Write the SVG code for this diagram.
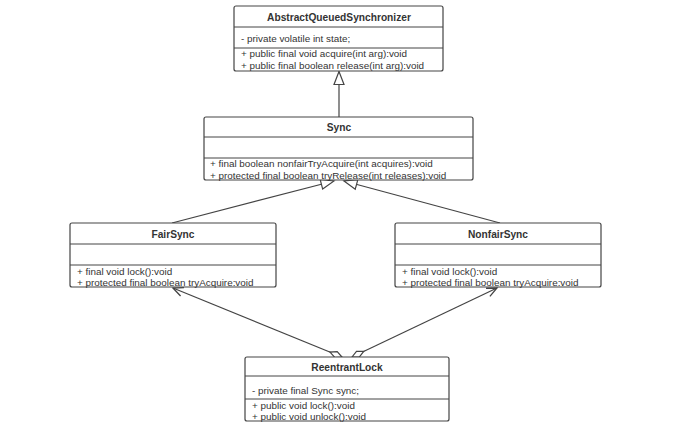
<svg xmlns="http://www.w3.org/2000/svg" width="679" height="427" viewBox="0 0 679 427">
<style>
.box{fill:#fff;stroke:#444;stroke-width:1.2}
.sep{stroke:#444;stroke-width:1}
.t{font-family:"Liberation Sans",Arial,sans-serif;font-size:9.9px;fill:#333}
.b{font-family:"Liberation Sans",Arial,sans-serif;font-size:10.2px;font-weight:bold;fill:#333;text-anchor:middle}
.c{fill:none;stroke:#444;stroke-width:1.2}
</style>
<defs>
<marker id="tri" viewBox="0 0 16 16" refX="14" refY="8" markerWidth="16" markerHeight="16" markerUnits="userSpaceOnUse" orient="auto">
<path d="M14,8 L1,3 L1,13 Z" fill="#fff" stroke="#444" stroke-width="1.2"/>
</marker>
<marker id="dia" viewBox="0 0 16 10" refX="1" refY="5" markerWidth="16" markerHeight="10" markerUnits="userSpaceOnUse" orient="auto">
<path d="M1,5 L7.5,1.8 L14,5 L7.5,8.2 Z" fill="#fff" stroke="#444" stroke-width="1.2"/>
</marker>
<marker id="arr" viewBox="0 0 14 14" refX="12" refY="7" markerWidth="14" markerHeight="14" markerUnits="userSpaceOnUse" orient="auto">
<path d="M2,2.5 L12,7 L2,11.5" fill="none" stroke="#444" stroke-width="1.3"/>
</marker>
</defs>
<g id="connectors">
<path class="c" d="M339,117 L339,71.5" marker-end="url(#tri)"/>
<path class="c" d="M172,223 L334,181" marker-end="url(#tri)"/>
<path class="c" d="M500,223 L344,181" marker-end="url(#tri)"/>
<path class="c" d="M342,357 L173,288" marker-start="url(#dia)" marker-end="url(#arr)"/>
<path class="c" d="M352,357 L497,288" marker-start="url(#dia)" marker-end="url(#arr)"/>
</g>
<g id="aqs">
<rect class="box" x="234" y="6" width="209" height="65" rx="2"/>
<line class="sep" x1="234" y1="27" x2="443" y2="27"/>
<line class="sep" x1="234" y1="48" x2="443" y2="48"/>
<text class="b" x="339" y="20.5">AbstractQueuedSynchronizer</text>
<text class="t" x="241" y="41.5">- private volatile int state;</text>
<text class="t" x="241" y="57">+ public final void acquire(int arg):void</text>
<text class="t" x="241" y="69">+ public final boolean release(int arg):void</text>
</g>
<g id="sync">
<rect class="box" x="204" y="117" width="269" height="63" rx="2"/>
<line class="sep" x1="204" y1="137" x2="473" y2="137"/>
<line class="sep" x1="204" y1="158" x2="473" y2="158"/>
<text class="b" x="339" y="131">Sync</text>
<text class="t" x="210" y="167">+ final boolean nonfairTryAcquire(int acquires):void</text>
<text class="t" x="210" y="178.5">+ protected final boolean tryRelease(int releases):void</text>
</g>
<g id="fairsync">
<rect class="box" x="70" y="223" width="206" height="64" rx="2"/>
<line class="sep" x1="70" y1="244" x2="276" y2="244"/>
<line class="sep" x1="70" y1="265" x2="276" y2="265"/>
<text class="b" x="173" y="238">FairSync</text>
<text class="t" x="77" y="275">+ final void lock():void</text>
<text class="t" x="77" y="286">+ protected final boolean tryAcquire:void</text>
</g>
<g id="nonfairsync">
<rect class="box" x="395" y="223" width="206" height="64" rx="2"/>
<line class="sep" x1="395" y1="244" x2="601" y2="244"/>
<line class="sep" x1="395" y1="265" x2="601" y2="265"/>
<text class="b" x="498" y="238">NonfairSync</text>
<text class="t" x="402" y="275">+ final void lock():void</text>
<text class="t" x="402" y="286">+ protected final boolean tryAcquire:void</text>
</g>
<g id="reentrantlock">
<rect class="box" x="245" y="357" width="204" height="64" rx="2"/>
<line class="sep" x1="245" y1="376" x2="449" y2="376"/>
<line class="sep" x1="245" y1="399" x2="449" y2="399"/>
<text class="b" x="347" y="371">ReentrantLock</text>
<text class="t" x="252" y="394">- private final Sync sync;</text>
<text class="t" x="252" y="408.5">+ public void lock():void</text>
<text class="t" x="252" y="420">+ public void unlock():void</text>
</g>
</svg>
